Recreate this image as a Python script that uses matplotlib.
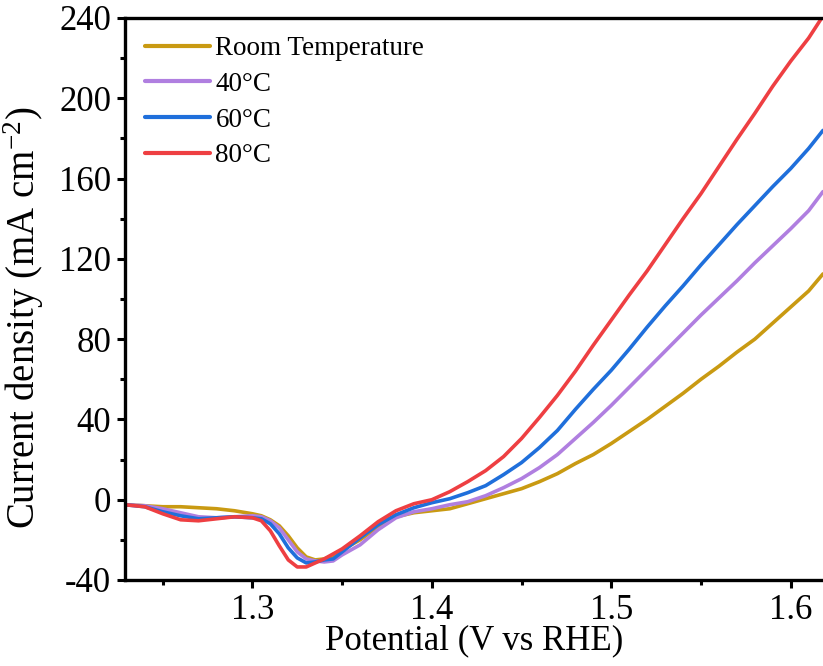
import matplotlib
matplotlib.use("Agg")
import matplotlib.pyplot as plt
from matplotlib.ticker import MultipleLocator

plt.rcParams['font.family'] = ['Liberation Serif', 'DejaVu Serif']
plt.rcParams['mathtext.fontset'] = 'custom'
plt.rcParams['mathtext.rm'] = 'Liberation Serif'
plt.rcParams['mathtext.it'] = 'Liberation Serif:italic'

potential = [1.229, 1.24, 1.25, 1.26, 1.27, 1.28, 1.29, 1.30, 1.305, 1.31, 1.315, 1.32,
             1.325, 1.33, 1.335, 1.34, 1.345, 1.35, 1.36, 1.37, 1.38, 1.39, 1.40, 1.41,
             1.42, 1.43, 1.44, 1.45, 1.46, 1.47, 1.48, 1.49, 1.50, 1.51, 1.52, 1.53,
             1.54, 1.55, 1.56, 1.57, 1.58, 1.59, 1.60, 1.61, 1.618]

j_room = [-2.5, -3, -3.5, -3.5, -4, -4.5, -5.5, -7, -8, -10, -13, -18,
          -24, -28.5, -30, -29.5, -28, -25, -20, -13.5, -8.5, -6.5, -5.5, -4.5,
          -2, 0.5, 3, 5.5, 9, 13, 18, 22.5, 28, 34, 40, 46.5,
          53, 60, 66.5, 73.5, 80, 88, 96, 104, 112.5]

j_40 = [-2.5, -3, -4.5, -6.5, -8.5, -9, -8.5, -8, -8.5, -10.5, -14, -20,
        -26, -29.5, -30.5, -31, -30.5, -27.5, -22.5, -15, -9, -6, -4.5, -2.5,
        -1, 2, 6, 10.5, 16, 22.5, 30.5, 38.5, 47, 56, 65, 74,
        83, 92, 100.5, 109, 118, 126.5, 135, 144, 153.5]

j_60 = [-2.5, -3.5, -6, -8, -9.5, -9, -8.5, -9, -9.5, -12, -17, -24,
        -29, -31.5, -31, -30, -29.5, -26, -19, -12.5, -7.5, -4, -1.5, 0.5,
        3.5, 7, 12.5, 18.5, 26, 34.5, 45, 55, 64.5, 75, 86, 96.5,
        106.5, 117, 127, 137, 146.5, 156, 165, 175, 184]

j_80 = [-2.5, -3.5, -7, -10, -10.5, -9.5, -8.5, -9, -10.5, -15.5, -23, -30,
        -33.5, -33.5, -31.5, -29.5, -27, -24.5, -18, -11, -5.5, -2, 0, 4,
        9, 14.5, 21.5, 30.5, 41, 52, 64, 77, 89.5, 102, 114, 127,
        140, 152.5, 166, 179.5, 192.5, 206, 218.5, 230, 241]

labels = ['Room Temperature', '40°C', '60°C', '80°C']
colors = ['#C99A12', '#B07FE0', '#1F6FDB', '#EE3F42']
series = [j_room, j_40, j_60, j_80]

W, H = 823, 666
fig = plt.figure(figsize=(W / 100, H / 100), dpi=100)
ax = fig.add_axes([125 / W, 1 - 580 / H, 1 - 125 / W, (580 - 18) / H])

for y, c, lab in zip(series, colors, labels):
    ax.plot(potential, y, color=c, lw=2.6, label=lab, solid_capstyle='round')

ax.set_xlim(1.229, 1.618)
ax.set_ylim(-40, 240)
ax.xaxis.set_major_locator(MultipleLocator(0.1))
ax.xaxis.set_minor_locator(MultipleLocator(0.05))
ax.yaxis.set_major_locator(MultipleLocator(40))
ax.yaxis.set_minor_locator(MultipleLocator(20))
ax.set_xticks([1.3, 1.4, 1.5, 1.6])
ax.set_xticklabels(['1.3', '1.4', '1.5', '1.6'])
ax.set_yticks([-40, 0, 40, 80, 120, 160, 200, 240])
ax.set_yticklabels(['-40', '0', '40', '80', '120', '160', '200', '240'])

for s in ['left', 'bottom', 'top']:
    ax.spines[s].set_linewidth(2.4)
ax.spines['right'].set_visible(False)
ax.tick_params(which='major', direction='out', length=6, width=2.2, labelsize=25, pad=4,
               top=False, right=False)
ax.tick_params(which='minor', direction='out', length=3.5, width=2.2, top=False, right=False)

ax.set_xlabel('Potential (V vs RHE)', fontsize=25, labelpad=-2)
ax.set_ylabel(r'Current density (mA cm$^{\mathrm{-2}}$)', fontsize=28)
ax.yaxis.set_label_coords(-0.113, 0.466)

leg = ax.legend(loc='upper left', bbox_to_anchor=(20 / 698, 0.968), frameon=False,
                fontsize=19.5, handlelength=2.4, handletextpad=0.2, labelspacing=0.4,
                borderaxespad=0, borderpad=0)
for l in leg.get_lines():
    l.set_linewidth(3)

fig.savefig('out.png', dpi=100)
